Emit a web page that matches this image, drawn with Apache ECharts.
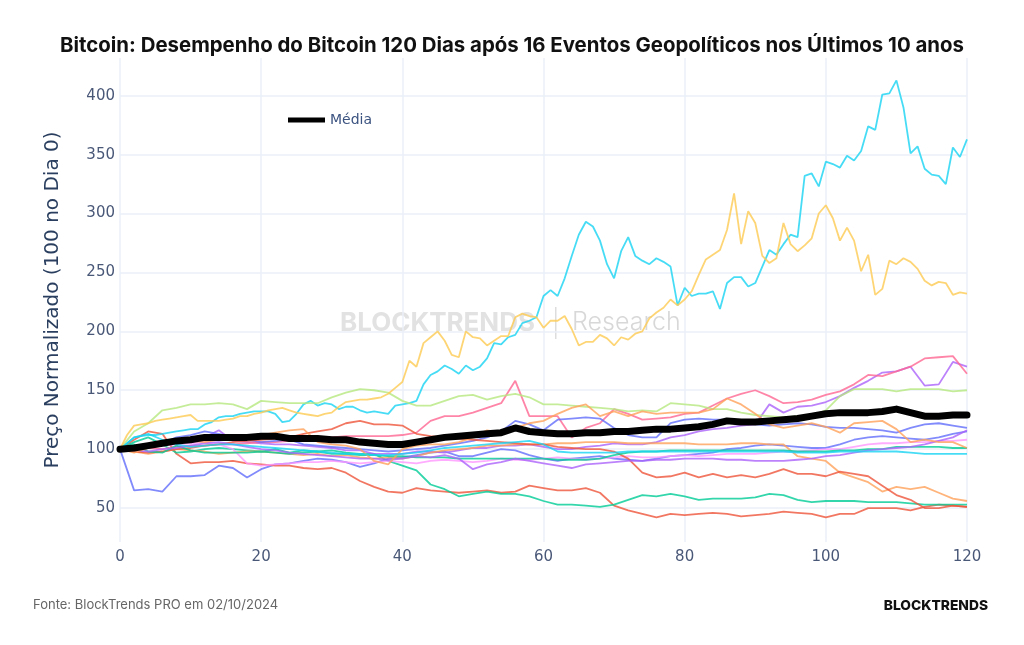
<!DOCTYPE html>
<html>
<head>
<meta charset="utf-8">
<script src="https://cdn.jsdelivr.net/npm/echarts@6/dist/echarts.min.js"></script>
<style>
html,body{margin:0;padding:0;background:#fff;}
#chart{width:1024px;height:645px;}
</style>
</head>
<body>
<div id="chart"></div>
<script>
// ---- data ----
const titleText = 'Bitcoin: Desempenho do Bitcoin 120 Dias após 16 Eventos Geopolíticos nos Últimos 10 anos';
const yAxisTitle = 'Preço Normalizado (100 no Dia 0)';
const sourceText = 'Fonte: BlockTrends PRO em 02/10/2024';
const xTicks = [0, 20, 40, 60, 80, 100, 120];
const yTicks = [50, 100, 150, 200, 250, 300, 350, 400];
const meanName = 'Média';

// daily values (step 1 day)
const ev6 = [100,105,110,111,112,112,113,114,115,116,
  117,117,121,123,127,128,128,130,131,132,
  132,132,130,123,124,130,138,141,137,139,
  138,134,136,136,133,131,132,131,130,137,
  138,139,141,155,163,166,171,168,164,171,
  167,170,177,190,189,195,197,207,209,212,
  230,235,230,245,264,282,293,289,277,257,
  245,268,280,264,260,257,262,259,255,222,
  237,230,232,232,234,219,241,246,246,238,
  241,255,269,265,274,282,280,332,334,323,
  344,342,339,349,345,353,374,371,401,402,
  413,390,351,357,338,333,332,325,356,348,
  363];
const ev10 = [100,112,120,121,122,124,125,126,127,128,
  129,124,124,124,124,125,126,128,128,130,
  131,133,134,135,133,131,130,129,128,130,
  131,136,140,141,142,142,143,144,147,152,
  157,175,170,190,195,200,192,180,178,200,
  195,194,188,192,196,196,212,215,213,212,
  203,209,209,213,202,188,191,191,197,194,
  188,195,193,198,200,211,216,220,227,222,
  227,234,248,261,265,269,286,317,274,302,
  292,264,258,262,292,274,268,273,279,300,
  307,296,277,288,277,251,265,231,236,260,
  257,262,259,253,243,239,242,241,231,233,
  232];

// values every 2 days (day 0, 2, ..., 120)
const ev1 = [100,65,66,64,77,77,78,86,84,76,
  83,87,88,90,92,91,89,85,88,92,
  93,95,97,98,94,94,97,100,99,95,
  92,90,92,93,94,92,91,90,92,94,
  95,96,97,100,101,103,104,103,102,101,
  101,104,108,110,111,110,109,108,110,113,
  115];
const ev2 = [100,108,115,113,96,88,89,89,90,88,
  87,86,86,84,83,84,80,73,68,64,
  63,67,65,64,63,64,65,63,64,69,
  67,65,65,67,63,52,48,45,42,45,
  44,45,46,45,43,44,45,47,46,45,
  42,45,45,50,50,50,48,51,53,52,
  51];
const ev3 = [100,106,110,104,97,98,100,101,100,99,
  98,100,97,99,98,99,97,96,96,90,
  86,82,70,66,60,62,64,62,62,60,
  56,53,53,52,51,53,57,61,60,62,
  60,57,58,58,58,59,62,61,57,55,
  56,56,56,55,55,55,54,53,53,53,
  53];
const ev4 = [100,102,104,104,106,108,110,116,107,106,
  105,104,104,103,102,101,99,99,96,96,
  96,98,98,97,99,101,101,103,103,104,
  102,100,100,102,103,105,104,104,106,110,
  112,115,117,118,120,121,138,131,136,137,
  140,145,152,158,165,166,170,154,155,174,
  170];
const ev5 = [100,98,96,98,100,99,98,96,97,98,
  98,97,96,95,96,94,95,93,92,93,
  92,94,97,99,100,101,103,103,104,104,
  104,105,105,106,106,106,105,105,105,105,
  105,104,104,104,105,105,104,104,94,92,
  90,80,76,72,64,68,66,68,63,58,
  56];
const ev7 = [100,99,101,100,102,103,103,104,104,105,
  106,106,107,108,110,110,111,111,111,111,
  112,114,124,128,128,131,135,139,158,128,
  128,128,110,118,122,134,130,125,126,127,
  130,131,137,143,147,150,145,139,140,142,
  146,149,155,163,162,166,170,177,178,179,
  164];
const ev8 = [100,115,122,133,135,138,138,139,138,134,
  141,140,139,139,139,144,148,151,150,148,
  141,137,137,141,145,146,142,145,147,144,
  138,138,137,136,135,134,132,133,132,139,
  138,137,134,134,131,129,128,127,128,128,
  133,145,151,151,151,149,151,151,151,149,
  150];
const ev9 = [100,101,102,103,104,105,106,104,100,88,
  86,87,88,89,89,90,89,88,89,90,
  89,88,90,91,90,89,90,92,91,91,
  92,93,92,91,92,93,94,93,93,94,
  95,94,95,96,96,96,97,98,98,99,
  100,100,102,104,105,105,106,106,107,107,
  108];
const ev11 = [100,101,103,105,110,112,115,113,110,108,
  106,107,108,104,103,102,101,100,99,98,
  99,100,101,103,105,107,110,115,124,121,
  116,125,126,127,126,118,112,110,110,122,
  125,126,125,125,124,121,120,121,122,121,
  119,118,118,117,116,114,118,121,122,120,
  118];
const ev12 = [100,98,97,98,100,101,103,104,106,107,
  108,109,110,113,115,117,122,124,121,121,
  120,113,111,110,109,108,107,106,105,104,
  104,102,101,100,100,98,92,80,76,77,
  80,76,79,76,78,76,79,83,79,79,
  77,81,79,77,69,61,57,50,50,52,
  51];
const ev13 = [100,104,98,97,103,99,97,97,97,97,
  98,97,96,97,98,96,96,95,95,94,
  94,93,93,93,92,92,92,92,92,92,
  92,91,91,91,92,95,97,98,98,99,
  99,99,99,99,99,99,99,99,98,98,
  98,99,99,100,100,102,102,102,102,101,
  101];
const ev14 = [100,99,98,100,101,103,105,106,104,102,
  100,99,97,96,95,94,93,92,92,91,
  92,94,93,95,92,83,87,89,92,90,
  88,86,84,87,88,89,90,90,91,91,
  92,92,92,91,91,90,90,90,91,92,
  94,95,97,99,100,101,102,104,107,110,
  116];
const ev15 = [100,97,101,104,106,107,106,108,108,110,
  112,114,116,117,106,104,103,100,90,87,
  100,103,104,104,106,110,116,114,118,122,
  124,130,135,138,128,132,128,132,130,131,
  131,131,134,143,138,130,121,118,120,122,
  119,114,122,123,124,117,106,108,106,106,
  101];
const ev16 = [100,110,113,108,104,102,103,104,104,103,
  102,101,100,99,98,97,96,96,95,95,
  96,97,99,101,102,103,104,105,106,107,
  104,98,97,97,97,97,98,98,98,98,
  98,98,98,98,98,98,98,98,97,97,
  97,98,98,98,98,98,97,96,96,96,
  96];
const meanValues = [100,101,103,105,107,108,110,110,110,110,
  111,111,109,109,109,108,108,106,105,104,
  104,106,108,110,111,112,113,114,118,115,
  114,113,113,114,114,115,115,116,117,117,
  118,119,121,124,123,123,124,125,126,128,
  130,131,131,131,132,134,131,128,128,129,
  129];

const events = [
  {name:'Evento 1', values: ev1, step: 2},
  {name:'Evento 2', values: ev2, step: 2},
  {name:'Evento 3', values: ev3, step: 2},
  {name:'Evento 4', values: ev4, step: 2},
  {name:'Evento 5', values: ev5, step: 2},
  {name:'Evento 6', values: ev6, step: 1},
  {name:'Evento 7', values: ev7, step: 2},
  {name:'Evento 8', values: ev8, step: 2},
  {name:'Evento 9', values: ev9, step: 2},
  {name:'Evento 10', values: ev10, step: 1},
  {name:'Evento 11', values: ev11, step: 2},
  {name:'Evento 12', values: ev12, step: 2},
  {name:'Evento 13', values: ev13, step: 2},
  {name:'Evento 14', values: ev14, step: 2},
  {name:'Evento 15', values: ev15, step: 2},
  {name:'Evento 16', values: ev16, step: 2}
];
const palette = ['#636efa','#EF553B','#00cc96','#ab63fa','#FFA15A','#19d3f3','#FF6692','#B6E880','#FF97FF','#FECB52'];

// ---- chart ----
const chart = echarts.init(document.getElementById('chart'), null, {renderer:'canvas'});
const series = events.map((ev, k) => ({
  name: ev.name,
  type: 'line',
  data: ev.values.map((v, i) => [i * ev.step, v]),
  showSymbol: false,
  symbol: 'none',
  lineStyle: {color: palette[k % palette.length], width: 1.8, opacity: 0.8},
  itemStyle: {color: palette[k % palette.length]},
  z: 3,
  silent: true
}));
series.push({
  name: meanName,
  type: 'line',
  data: meanValues.map((v, i) => [i * 2, v]),
  showSymbol: false,
  symbol: 'none',
  lineStyle: {color: '#000', width: 7, join: 'round', cap: 'round'},
  itemStyle: {color: '#000'},
  z: 5,
  silent: true
});

const axisFont = 'DejaVu Sans';
chart.setOption({
  animation: false,
  backgroundColor: '#fff',
  title: {
    text: titleText,
    left: 'center',
    top: 31,
    textStyle: {fontFamily: 'Inter', fontWeight: 'bold', fontSize: 20.4, color: '#111'}
  },
  legend: {
    data: [meanName],
    left: 283,
    top: 108,
    icon: 'rect',
    itemWidth: 37,
    itemHeight: 5,
    itemGap: 8,
    textStyle: {fontFamily: axisFont, fontSize: 14, color: '#3b5380'}
  },
  grid: {left: 120, right: 57, top: 58, bottom: 103, containLabel: false},
  xAxis: {
    type: 'value',
    min: 0, max: 120, interval: 20,
    axisLine: {show: false},
    axisTick: {show: false},
    axisLabel: {fontFamily: axisFont, fontSize: 15, color: '#4a5878', margin: 8,
      customValues: xTicks},
    splitLine: {show: true, lineStyle: {color: '#EBF0F8', width: 1.5}}
  },
  yAxis: {
    type: 'value',
    min: 21.2, max: 432,
    name: yAxisTitle,
    nameLocation: 'middle',
    nameGap: 57,
    nameTextStyle: {fontFamily: axisFont, fontSize: 20, color: '#2a3f5f'},
    axisLine: {show: false},
    axisTick: {show: false, customValues: yTicks},
    axisLabel: {fontFamily: axisFont, fontSize: 15, color: '#4a5878', margin: 5,
      customValues: yTicks},
    splitLine: {show: true, lineStyle: {color: '#EBF0F8', width: 1.5}}
  },
  graphic: [
    {type: 'text', left: 340, top: 310, z: 0, silent: true,
      style: {text: 'BLOCKTRENDS', font: 'bold 26px Inter', fill: '#e2e2e2'}},
    {type: 'rect', left: 555, top: 307, z: 0, silent: true,
      shape: {width: 1.5, height: 32}, style: {fill: '#dddddd'}},
    {type: 'text', left: 572, top: 310, z: 0, silent: true,
      style: {text: 'Research', font: '300 25px Inter', fill: '#d8d8d8'}},
    {type: 'text', left: 33, top: 599, silent: true,
      style: {text: sourceText, font: '13px Inter', fill: '#666'}},
    {type: 'text', right: 36, top: 599, silent: true,
      style: {text: 'BLOCKTRENDS', font: '800 13.8px Inter', fill: '#111'}}
  ],
  series: series
});
</script>
</body>
</html>
